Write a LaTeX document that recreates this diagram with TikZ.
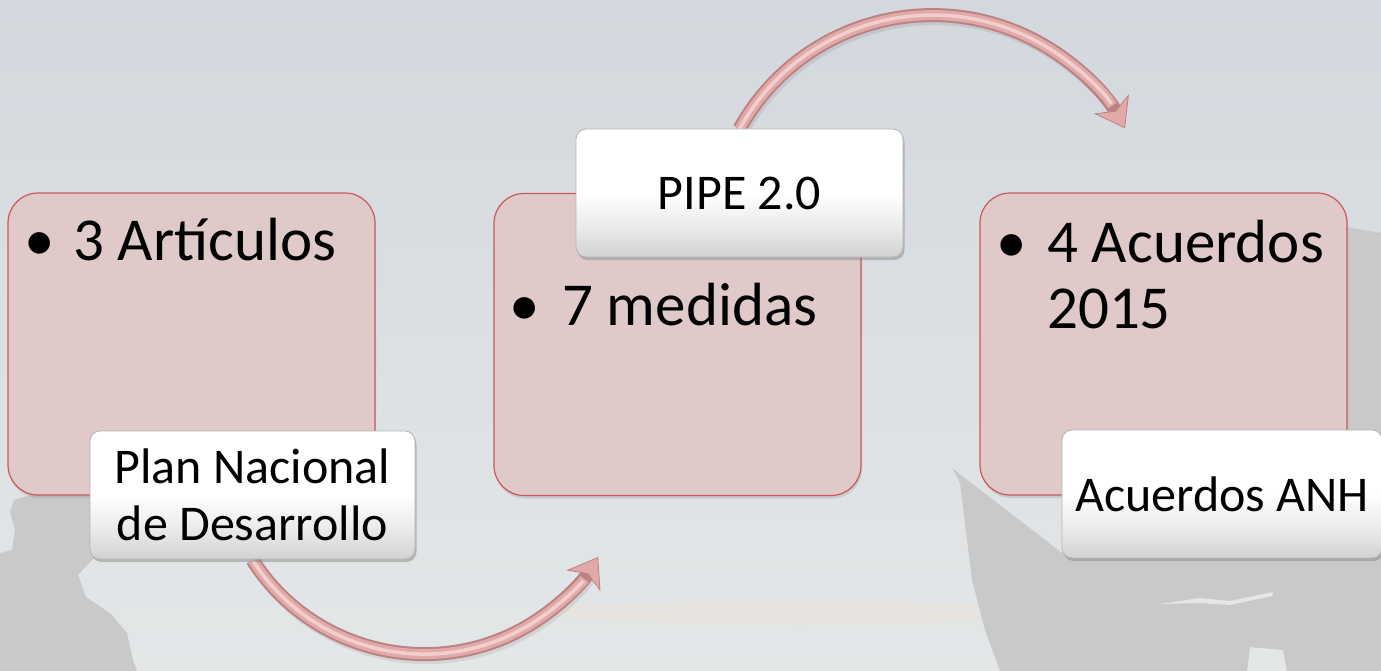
\documentclass[tikz,border=0pt]{standalone}
\usepackage{fontspec}
\setmainfont{Carlito}
\usetikzlibrary{arrows.meta,shadows}
\definecolor{bgtop}{HTML}{D3D8DE}
\definecolor{bgbot}{HTML}{E4E7E8}
\definecolor{pinkfill}{HTML}{DFC9C9}
\definecolor{pinkedge}{HTML}{C95A5A}
\definecolor{wbedge}{HTML}{B5B5B5}
\definecolor{wbbot}{HTML}{D2D2D2}
\definecolor{tubedark}{HTML}{BC8282}
\definecolor{tubemid}{HTML}{E2A9A9}
\definecolor{tubelight}{HTML}{F2CFCF}
\definecolor{silh}{HTML}{C9C9C9}
\pgfdeclareverticalshading{wbshade}{100bp}{color(0bp)=(wbbot); color(25bp)=(wbbot); color(37bp)=(wbbot!45!white); color(50bp)=(white); color(100bp)=(white)}
\tikzset{
  pinkbox/.style={draw=pinkedge, line width=1.2pt, fill=pinkfill, rounded corners=30pt,
    minimum width=367pt, minimum height=302pt, inner sep=0pt,
    drop shadow={opacity=0.25, shadow xshift=1pt, shadow yshift=-3pt}},
  wbbox/.style={draw=wbedge, line width=0.8pt, shading=wbshade, rounded corners=10pt,
    minimum height=128pt, inner sep=0pt, align=center,
    font=\fontsize{50}{57}\selectfont,
    drop shadow={opacity=0.45, shadow xshift=1.5pt, shadow yshift=-3pt}},
  bigtxt/.style={font=\fontsize{61}{66}\selectfont, inner sep=0pt},
  tubeshadow/.style={line width=14pt, draw=black, opacity=0.08, shorten >=20pt},
  tubebase/.style={line width=14pt, draw=tubedark},
  tubemidl/.style={line width=10pt, draw=tubemid, shorten >=26pt},
  tubehl/.style={line width=3.5pt, draw=tubelight, shorten >=28pt},
  tubetip/.style={-{Stealth[length=28pt,width=40pt,inset=8pt,line width=0.8pt,fill=tubemid,color=tubedark]}}
}
\begin{document}
\begin{tikzpicture}[x=1pt,y=-1pt]
\useasboundingbox (0,0) rectangle (1381,671);
\shade[top color=bgtop, bottom color=bgbot] (0,0) rectangle (1381,671);
% faint warm cloud
\fill[orange!30!white, opacity=0.15] (800,612) ellipse[x radius=260, y radius=12];
% silhouettes
\fill[silh] (0,553) -- (12,550) -- (15,530) -- (10,512) -- (14,500) -- (40,492) -- (95,492)
  -- (95,557) -- (78,575) -- (86,597) -- (110,613) -- (127,633) -- (133,660) -- (137,671)
  -- (0,671) -- cycle;
\fill[silh] (952,468) -- (1062,553) -- (1200,500) -- (1347,227) -- (1381,233) -- (1381,671)
  -- (1287,671) -- (1283,650) -- (1250,647) -- (1247,671) -- (1000,671) -- (985,630)
  -- (972,580) -- (960,483) -- cycle;
\fill[bgbot] (1160,604) -- (1200,598) -- (1230,601) -- (1273,592) -- (1272,596) -- (1230,605) -- (1200,603) -- cycle;
% pink boxes
\node[pinkbox] (b1) at (191.5,344) {};
\node[pinkbox] (b2) at (677.5,344.5) {};
\node[pinkbox] (b3) at (1163.5,344) {};
% texts in pink boxes
\node[bigtxt, anchor=base] (d1) at (40,260) {\textbullet};
\node[bigtxt, anchor=base west] (t1) at (73,260) {3 Artículos};
\node[bigtxt, anchor=base] (d2) at (525,325) {\textbullet};
\node[bigtxt, anchor=base west] (t2) at (562,325) {7 medidas};
\node[bigtxt, anchor=base] (d3) at (1012,262) {\textbullet};
\node[bigtxt, anchor=base west] (t3a) at (1047,262) {4 Acuerdos};
\node[bigtxt, anchor=base west] (t3b) at (1047,328) {2015};
% anchor coordinates on the white boxes
\coordinate (s1) at (252.5,560);
\coordinate (s2) at (739.5,129);
% arrows
\begin{scope}[transform canvas={shift={(2pt,-3pt)}}]
\draw[tubeshadow] (s1) arc[start angle=147.4, end angle=31.6, radius=204];
\draw[tubeshadow] (s2) arc[start angle=-151.1, end angle=-29.1, radius=220.4];
\end{scope}
\draw[tubebase, tubetip] (s1) arc[start angle=147.4, end angle=31.6, radius=204];
\draw[tubemidl] (s1) arc[start angle=147.4, end angle=31.6, radius=204];
\draw[tubehl] (s1) arc[start angle=147.4, end angle=31.6, radius=204];
\draw[tubebase, tubetip] (s2) arc[start angle=-151.1, end angle=-29.1, radius=220.4];
\draw[tubemidl] (s2) arc[start angle=-151.1, end angle=-29.1, radius=220.4];
\draw[tubehl] (s2) arc[start angle=-151.1, end angle=-29.1, radius=220.4];
% white boxes
\node[wbbox, minimum width=325pt] (w1) at (252.5,495) {Plan Nacional\\de Desarrollo};
\node[wbbox, minimum width=327pt] (w2) at (739.5,193) {PIPE 2.0};
\node[wbbox, minimum width=320pt] (w3) at (1222,494) {Acuerdos ANH};
\end{tikzpicture}
\end{document}
